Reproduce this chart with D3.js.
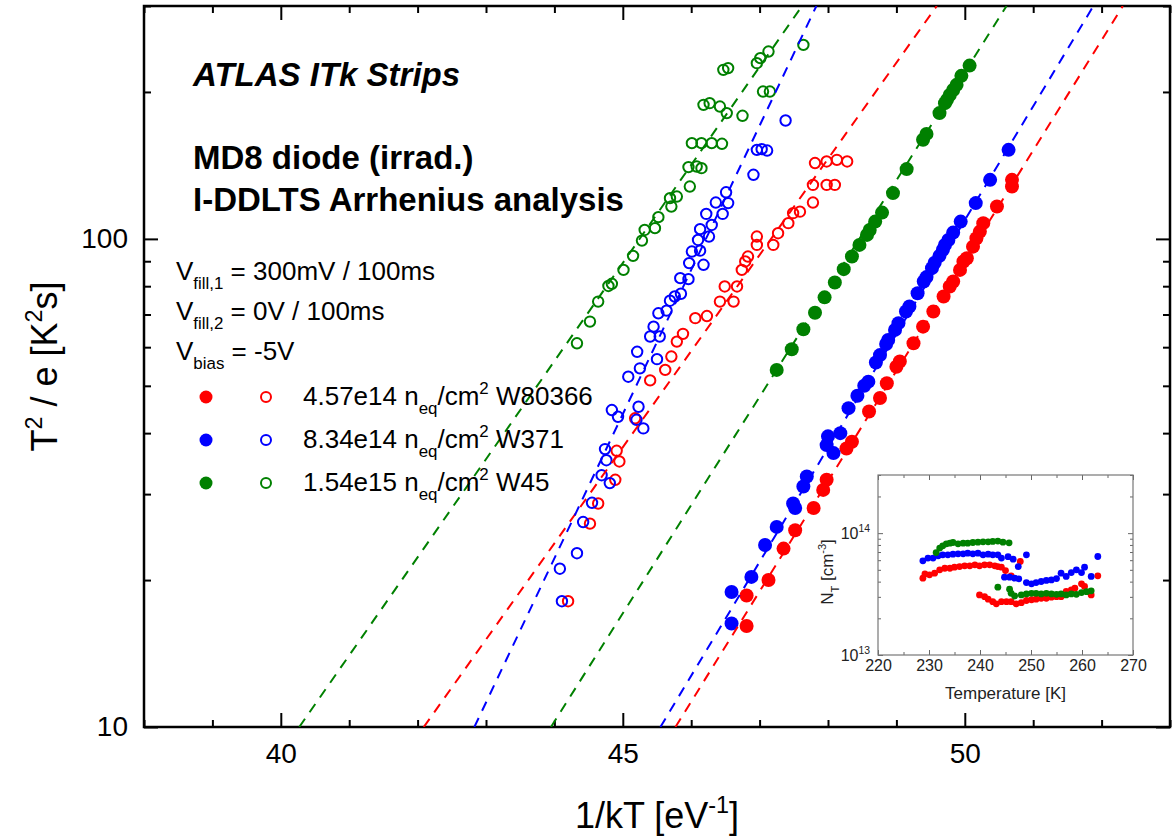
<!DOCTYPE html>
<html lang="en">
<head>
<meta charset="UTF-8">
<title>I-DDLTS Arrhenius analysis</title>
<script src="https://cdn.jsdelivr.net/npm/d3@7"></script>
<style>
  body { margin: 0; background: #fff; }
  svg { font-family: "Liberation Sans", Arial, Helvetica, sans-serif; }
</style>
</head>
<body>
<div id="chart"></div>
<script>
// ---- data: [1/kT (eV^-1), T^2/e (K^2 s)] ----
const seriesColors = ["#ff0000", "#0000ff", "#008000"];
const seriesFluence = ["4.57e14", "8.34e14", "1.54e15"];
const seriesWafer = ["W80366", "W371", "W45"];

const redFilled = [[46.81,16.1],[46.81,18.6],[47.13,20.0],[47.35,23.2],[47.52,25.3],[47.79,28.1],[47.93,30.6],[47.98,32.1],[48.27,37.2],[48.35,38.4],[48.60,44.3],[48.76,47.2],[48.86,50.6],[49.00,54.7],[49.05,56.1],[49.25,61.1],[49.39,66.1],[49.54,71.0],[49.69,76.2],[49.78,79.9],[49.83,81.8],[49.93,86.4],[49.98,89.9],[50.03,91.3],[50.12,96.4],[50.17,100.3],[50.22,103.5],[50.27,107.7],[50.47,116.5],[50.69,128.0],[50.69,132.1]];
const blueFilled = [[46.59,16.3],[46.59,18.9],[46.88,20.3],[47.08,23.6],[47.25,25.7],[47.49,28.7],[47.52,28.1],[47.64,31.1],[47.69,32.6],[48.08,36.4],[47.98,37.8],[48.00,39.4],[48.18,40.0],[48.30,45.0],[48.43,47.7],[48.53,50.0],[48.59,51.0],[48.70,55.8],[48.76,57.8],[48.85,60.9],[48.88,62.1],[48.98,65.1],[49.03,67.2],[49.14,71.0],[49.19,72.7],[49.31,77.4],[49.40,81.8],[49.44,83.5],[49.52,87.1],[49.56,89.4],[49.63,92.3],[49.68,95.0],[49.71,97.2],[49.76,99.5],[49.83,103.0],[49.94,108.5],[50.16,118.4],[50.37,132.1],[50.64,152.2]];
const greenFilled = [[47.25,53.9],[47.47,59.4],[47.64,65.3],[47.81,70.6],[47.95,75.9],[48.10,81.4],[48.23,86.7],[48.35,92.0],[48.46,97.2],[48.57,101.9],[48.61,104.3],[48.69,108.5],[48.79,113.2],[48.95,124.1],[49.15,139.0],[49.39,159.6],[49.44,164.1],[49.63,181.0],[49.71,189.7],[49.74,192.7],[49.78,197.2],[49.83,201.9],[49.88,206.8],[49.95,215.8],[50.07,226.5]];

const redOpen = [[44.20,18.1],[44.52,26.1],[44.64,28.7],[44.89,32.1],[44.95,35.0],[44.91,36.8],[45.18,42.9],[45.40,51.3],[45.62,53.9],[45.71,57.4],[45.79,61.6],[45.88,63.9],[46.06,68.8],[46.23,69.5],[46.42,74.4],[46.62,74.4],[46.49,79.9],[46.67,79.9],[46.74,86.4],[46.79,89.9],[46.83,92.0],[46.96,97.2],[46.96,101.1],[47.20,97.2],[47.27,102.7],[47.42,107.7],[47.49,112.9],[47.59,113.7],[47.78,118.7],[47.78,129.0],[47.98,129.0],[48.10,129.0],[47.81,143.0],[47.98,144.1],[48.13,145.2],[48.28,144.1]];
const blueOpen = [[44.11,18.1],[44.08,21.1],[44.33,22.7],[44.42,26.3],[44.55,28.8],[44.81,31.6],[44.69,32.8],[44.76,35.2],[44.74,37.1],[45.30,40.9],[45.20,42.6],[44.93,43.2],[44.84,44.6],[45.23,45.3],[45.08,52.2],[45.25,54.3],[45.50,56.7],[45.21,58.7],[45.40,63.1],[45.54,63.1],[45.45,66.1],[45.52,70.4],[45.64,71.3],[45.69,74.7],[45.76,76.2],[45.85,77.2],[45.96,82.7],[45.84,83.1],[46.18,88.5],[45.97,89.2],[46.01,94.2],[46.13,94.6],[46.10,99.5],[46.26,101.1],[46.13,104.7],[46.30,106.8],[46.22,112.5],[46.46,112.5],[46.36,118.7],[46.54,118.4],[46.51,124.6],[46.91,135.3],[46.96,152.2],[47.03,152.7],[47.11,151.7],[47.38,174.8]];
const greenOpen = [[44.33,61.1],[44.52,67.7],[44.64,74.4],[44.79,80.1],[44.84,80.9],[45.01,86.4],[45.15,92.3],[45.28,99.2],[45.32,104.3],[45.47,105.2],[45.52,110.8],[45.71,116.5],[45.69,121.2],[45.79,122.1],[45.98,128.0],[45.96,140.3],[46.08,140.7],[46.15,139.6],[46.01,157.1],[46.15,157.1],[46.30,157.1],[46.45,156.6],[46.18,188.2],[46.27,189.7],[46.42,186.7],[46.52,181.0],[46.75,178.7],[47.05,200.4],[47.15,200.4],[46.47,222.0],[46.54,223.8],[46.96,229.1],[47.01,234.6],[47.13,242.0],[47.64,249.7]];

// dashed Arrhenius fits: two end points [1/kT, T^2/e]
const fitRedFilled = [[45.77,10],[52.31,300]];
const fitBlueFilled = [[45.55,10],[51.88,300]];
const fitGreenFilled = [[43.95,10],[50.61,300]];
const fitRedOpen = [[42.09,10],[49.59,300]];
const fitBlueOpen = [[42.83,10],[47.83,300]];
const fitGreenOpen = [[40.27,10],[47.62,300]];

// inset: [Temperature (K), N_T (cm^-3)]
const insetRed = [[228.8,4.27e13],[229.2,4.63e13],[230.1,4.55e13],[231.1,4.69e13],[232.1,5.0e13],[233.1,5.15e13],[234.1,5.15e13],[235.0,5.26e13],[236.0,5.32e13],[237.0,5.39e13],[238.0,5.39e13],[239.0,5.5e13],[239.9,5.39e13],[240.9,5.5e13],[241.9,5.5e13],[242.9,5.39e13],[243.5,5.32e13],[244.2,5.26e13],[245.0,4.93e13],[246.1,4.46e13],[247.9,5.85e13],
  [239.9,3.11e13],[240.9,3.01e13],[241.6,2.87e13],[242.5,2.74e13],[243.2,2.63e13],[244.2,2.74e13],[245.2,2.74e13],[246.1,2.74e13],[247.1,2.63e13],[248.1,2.69e13],[249.1,2.8e13],[250.1,2.84e13],[251.0,2.87e13],[252.0,2.92e13],[253.0,2.92e13],[254.0,2.98e13],[255.0,3.01e13],[255.9,3.01e13],[256.9,3.32e13],[257.9,3.42e13],[258.6,3.53e13],[259.9,3.84e13],[260.5,3.65e13],[261.8,3.11e13],[263.1,4.46e13]];
const insetBlue = [[228.8,5.93e13],[229.8,6.24e13],[230.8,6.24e13],[231.8,6.52e13],[232.7,6.64e13],[233.7,6.64e13],[234.7,6.72e13],[235.7,6.76e13],[236.7,6.76e13],[237.6,6.85e13],[238.6,6.76e13],[239.6,6.85e13],[240.6,6.64e13],[241.6,6.72e13],[242.5,6.64e13],[243.5,6.64e13],[244.2,6.24e13],[245.5,6.41e13],[246.5,6.11e13],[247.5,5.32e13],[249.1,6.64e13],
  [244.8,4.35e13],[245.8,4.35e13],[246.8,4.27e13],[247.6,4.22e13],[249.1,3.93e13],[250.1,3.84e13],[251.0,3.93e13],[252.0,4.01e13],[253.0,4.09e13],[254.0,4.13e13],[255.0,4.24e13],[255.9,4.69e13],[256.9,4.41e13],[257.9,4.75e13],[258.9,5.0e13],[259.9,4.75e13],[260.5,5.26e13],[261.8,4.41e13],[263.1,6.43e13]];
const insetGreen = [[231.4,6.93e13],[232.1,7.54e13],[232.7,7.87e13],[233.4,8.17e13],[234.1,8.28e13],[234.7,8.38e13],[235.7,8.17e13],[236.7,8.28e13],[237.6,8.28e13],[238.6,8.38e13],[239.6,8.43e13],[240.6,8.48e13],[241.6,8.48e13],[242.5,8.55e13],[243.5,8.6e13],[244.5,8.43e13],[245.7,8.33e13],
  [243.5,3.6e13],[245.8,3.47e13],[246.1,3.21e13],[246.8,3.05e13],[248.1,3.11e13],[249.1,3.17e13],[250.1,3.21e13],[251.0,3.21e13],[252.0,3.17e13],[253.0,3.21e13],[254.0,3.17e13],[255.0,3.15e13],[255.9,3.17e13],[256.9,3.11e13],[257.9,3.17e13],[258.9,3.15e13],[259.9,3.25e13],[260.9,3.31e13],[261.8,3.36e13]];

const xMajor = [40, 45, 50];
const xMinor = [38, 39, 41, 42, 43, 44, 46, 47, 48, 49, 51, 52, 53];
const yMajor = [10, 100];
const yMinor = [20, 30, 40, 50, 60, 70, 80, 90, 200, 300];
const insetXMajor = [220, 230, 240, 250, 260, 270];
const insetXMinor = [225, 235, 245, 255, 265];
const insetYMajor = [1e13, 1e14];
const insetYMinor = [2e13, 3e13, 4e13, 5e13, 6e13, 7e13, 8e13, 9e13, 2e14, 3e14];

// ---- chart ----
const W = 1174, H = 837;
const P = {left: 144, right: 1170, top: 6, bottom: 727};

const svg = d3.select("#chart").append("svg")
  .attr("width", W).attr("height", H);

const x = d3.scaleLinear().domain([38, 53]).range([P.left, P.right]);
const y = d3.scaleLog().domain([10, 300]).range([P.bottom, P.top]);

// text with sub / superscripts
function rich(g, px, py, parts, size) {
  const t = g.append("text").attr("x", px).attr("y", py).attr("font-size", size);
  let shift = 0;
  parts.forEach(([s, k]) => {
    const target = k === "sub" ? size * 0.35 : k === "sup" ? -size * 0.42 : 0;
    t.append("tspan")
      .attr("dy", target - shift)
      .attr("font-size", k ? size * 0.65 : size)
      .text(s);
    shift = target;
  });
  return t;
}

function styleAxis(g, color, width, fontSize) {
  g.select(".domain").remove();
  g.selectAll("line").attr("stroke", color).attr("stroke-width", width);
  g.attr("font-family", null).attr("font-size", fontSize);
}

// main axes (ticks inside on all four sides)
const axes = [
  [d3.axisBottom(x), `translate(0,${P.bottom})`, xMajor, xMinor, true],
  [d3.axisTop(x), `translate(0,${P.top})`, xMajor, xMinor, false],
  [d3.axisLeft(y), `translate(${P.left},0)`, yMajor, yMinor, true],
  [d3.axisRight(y), `translate(${P.right},0)`, yMajor, yMinor, false]
];
axes.forEach(([ax, tr, major, minor, labels]) => {
  svg.append("g").attr("transform", tr)
    .call(ax.tickValues(minor).tickSize(-7).tickFormat(""))
    .call(g => styleAxis(g, "#000", 2, 28));
  svg.append("g").attr("transform", tr)
    .call(ax.tickValues(major).tickSize(-14).tickPadding(16)
      .tickFormat(labels ? d => d : ""))
    .call(g => styleAxis(g, "#000", 2, 28));
});

svg.append("rect")
  .attr("x", P.left).attr("y", P.top)
  .attr("width", P.right - P.left).attr("height", P.bottom - P.top)
  .attr("fill", "none").attr("stroke", "#000").attr("stroke-width", 2.5);

// axis titles
rich(svg, 0, 0, [["1/kT [eV", ""], ["-1", "sup"], ["]", ""]], 36)
  .attr("text-anchor", "middle")
  .attr("transform", `translate(${(P.left + P.right) / 2},828)`);
rich(svg, 0, 0, [["T", ""], ["2", "sup"], [" / e [K", ""], ["2", "sup"], ["s]", ""]], 36)
  .attr("text-anchor", "middle")
  .attr("transform", `translate(57,${(P.top + P.bottom) / 2}) rotate(-90)`);

// clip
svg.append("clipPath").attr("id", "plotclip")
  .append("rect")
  .attr("x", P.left).attr("y", P.top)
  .attr("width", P.right - P.left).attr("height", P.bottom - P.top);
const plot = svg.append("g").attr("clip-path", "url(#plotclip)");

// open circles
[[redOpen, 0], [blueOpen, 1], [greenOpen, 2]].forEach(([data, i]) => {
  plot.append("g").selectAll("circle").data(data).join("circle")
    .attr("cx", d => x(d[0])).attr("cy", d => y(d[1]))
    .attr("r", 5.2)
    .attr("fill", "none")
    .attr("stroke", seriesColors[i]).attr("stroke-width", 2);
});
// filled circles
[[redFilled, 0], [blueFilled, 1], [greenFilled, 2]].forEach(([data, i]) => {
  plot.append("g").selectAll("circle").data(data).join("circle")
    .attr("cx", d => x(d[0])).attr("cy", d => y(d[1]))
    .attr("r", 7)
    .attr("fill", seriesColors[i]);
});

// dashed fits
const line = d3.line().x(d => x(d[0])).y(d => y(d[1]));
[[fitRedFilled, 0], [fitBlueFilled, 1], [fitGreenFilled, 2],
 [fitRedOpen, 0], [fitBlueOpen, 1], [fitGreenOpen, 2]].forEach(([d, i]) => {
  plot.append("path").datum(d)
    .attr("d", line)
    .attr("fill", "none")
    .attr("stroke", seriesColors[i])
    .attr("stroke-width", 2)
    .attr("stroke-dasharray", "10,8");
});

// annotations
svg.append("text").attr("x", 193).attr("y", 86)
  .attr("font-size", 33).attr("font-weight", "bold").attr("font-style", "italic")
  .text("ATLAS ITk Strips");
svg.append("text").attr("x", 193).attr("y", 169)
  .attr("font-size", 33).attr("font-weight", "bold")
  .text("MD8 diode (irrad.)");
svg.append("text").attr("x", 193).attr("y", 211)
  .attr("font-size", 33).attr("font-weight", "bold")
  .text("I-DDLTS Arrhenius analysis");

rich(svg, 176, 280, [["V", ""], ["fill,1", "sub"], [" = 300mV / 100ms", ""]], 26);
rich(svg, 176, 320, [["V", ""], ["fill,2", "sub"], [" = 0V / 100ms", ""]], 26);
rich(svg, 176, 360, [["V", ""], ["bias", "sub"], [" = -5V", ""]], 26);

// legend
const legendY = [397, 440, 483];
seriesColors.forEach((c, i) => {
  svg.append("circle").attr("cx", 206).attr("cy", legendY[i]).attr("r", 6.5).attr("fill", c);
  svg.append("circle").attr("cx", 266).attr("cy", legendY[i]).attr("r", 5)
    .attr("fill", "none").attr("stroke", c).attr("stroke-width", 2);
  rich(svg, 303, legendY[i] + 8,
    [[seriesFluence[i] + " n", ""], ["eq", "sub"], ["/cm", ""], ["2", "sup"], [" " + seriesWafer[i], ""]], 26);
});

// ---- inset ----
const I = {left: 878, right: 1133, top: 475, bottom: 655};
const ix = d3.scaleLinear().domain([220, 270]).range([I.left, I.right]);
const iy = d3.scaleLog().domain([1e13, 3e14]).range([I.bottom, I.top]);
const inset = svg.append("g");
inset.append("rect")
  .attr("x", I.left).attr("y", I.top)
  .attr("width", I.right - I.left).attr("height", I.bottom - I.top)
  .attr("fill", "#fff");

const insetAxes = [
  [d3.axisBottom(ix), `translate(0,${I.bottom})`, insetXMajor, insetXMinor, true],
  [d3.axisTop(ix), `translate(0,${I.top})`, insetXMajor, insetXMinor, false],
  [d3.axisLeft(iy), `translate(${I.left},0)`, insetYMajor, insetYMinor, false],
  [d3.axisRight(iy), `translate(${I.right},0)`, insetYMajor, insetYMinor, false]
];
insetAxes.forEach(([ax, tr, major, minor, labels]) => {
  inset.append("g").attr("transform", tr)
    .call(ax.tickValues(minor).tickSize(-3).tickFormat(""))
    .call(g => styleAxis(g, "#666", 1, 16));
  inset.append("g").attr("transform", tr)
    .call(ax.tickValues(major).tickSize(-5).tickPadding(5)
      .tickFormat(labels ? d => d : ""))
    .call(g => styleAxis(g, "#666", 1, 16));
});
inset.selectAll("text").attr("fill", "#222");
insetYMajor.forEach(v => {
  rich(inset, 870, iy(v) + 6, [["10", ""], [String(Math.round(Math.log10(v))), "sup"]], 16)
    .attr("text-anchor", "end").attr("fill", "#222");
});
inset.append("rect")
  .attr("x", I.left).attr("y", I.top)
  .attr("width", I.right - I.left).attr("height", I.bottom - I.top)
  .attr("fill", "none").attr("stroke", "#777").attr("stroke-width", 1.2);

[[insetRed, 0], [insetBlue, 1], [insetGreen, 2]].forEach(([data, i]) => {
  inset.append("g").selectAll("circle").data(data).join("circle")
    .attr("cx", d => ix(d[0])).attr("cy", d => iy(d[1]))
    .attr("r", 3.4).attr("fill", seriesColors[i]);
});

inset.append("text")
  .attr("x", (I.left + I.right) / 2).attr("y", 699)
  .attr("text-anchor", "middle").attr("font-size", 17).attr("fill", "#222")
  .text("Temperature [K]");
rich(inset, 0, 0, [["N", ""], ["T", "sub"], [" [cm", ""], ["-3", "sup"], ["]", ""]], 17)
  .attr("text-anchor", "middle").attr("fill", "#222")
  .attr("transform", `translate(833,572) rotate(-90)`);
</script>
</body>
</html>
